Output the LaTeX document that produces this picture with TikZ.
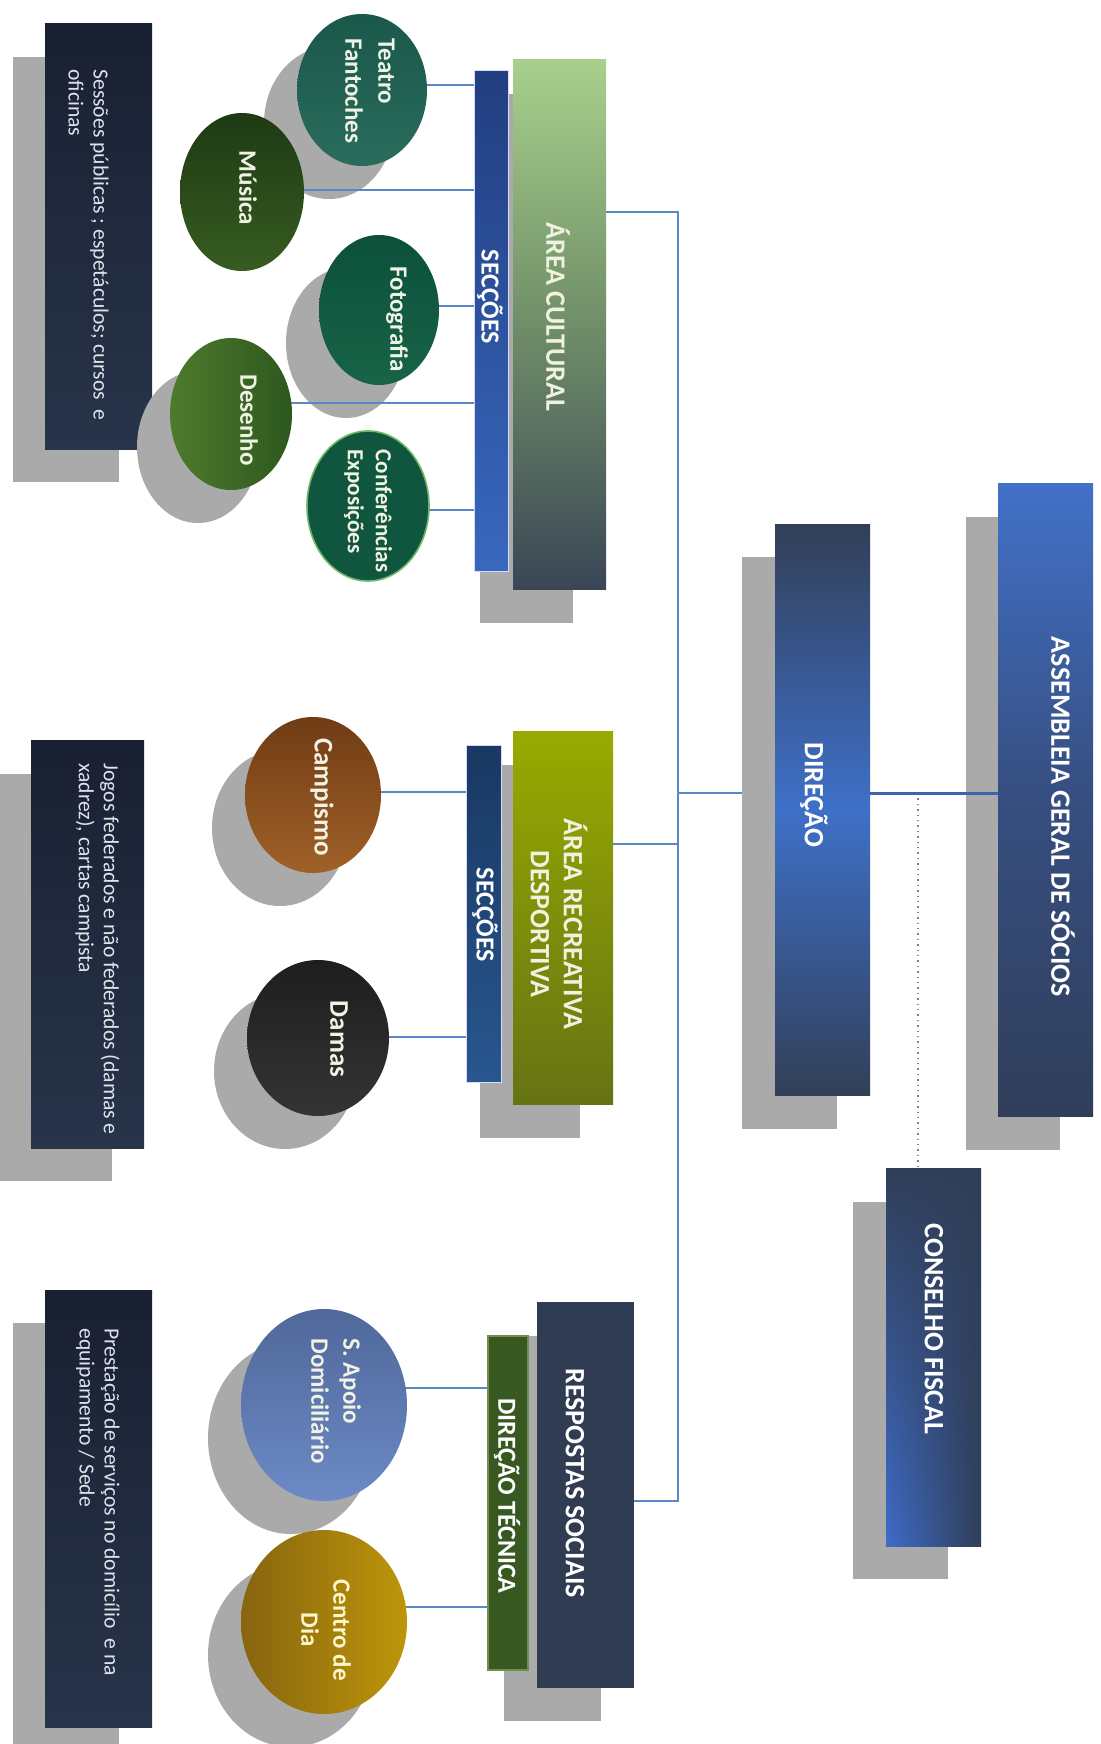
\documentclass[tikz,border=0pt]{standalone}
\usepackage{fontspec}
\setmainfont{Carlito}
\usetikzlibrary{fit,shapes.geometric,shadings}
\pgfdeclarelayer{bgl}
\pgfdeclarelayer{ln0}
\pgfdeclarelayer{rs}
\pgfdeclarelayer{es}
\pgfdeclarelayer{ln}
\pgfsetlayers{bgl,ln0,rs,es,ln,main}
\definecolor{shad}{RGB}{170,170,170}
\definecolor{navyT}{RGB}{25,32,50}
\definecolor{navyB}{RGB}{40,52,74}
\definecolor{cultT}{RGB}{168,208,140}
\definecolor{cultM}{RGB}{112,142,104}
\definecolor{cultB}{RGB}{58,70,86}
\definecolor{secAT}{RGB}{34,62,128}
\definecolor{secAB}{RGB}{56,104,190}
\definecolor{recT}{RGB}{152,170,0}
\definecolor{recB}{RGB}{102,115,20}
\definecolor{secBT}{RGB}{25,56,98}
\definecolor{secBB}{RGB}{40,86,142}
\definecolor{respc}{RGB}{48,60,82}
\definecolor{dtecc}{RGB}{56,88,34}
\definecolor{dtecb}{RGB}{110,145,80}
\definecolor{dirD}{RGB}{50,63,88}
\definecolor{dirL}{RGB}{62,112,200}
\definecolor{asmL}{RGB}{66,113,200}
\definecolor{asmM}{RGB}{54,78,128}
\definecolor{asmD}{RGB}{48,62,90}
\definecolor{consL}{RGB}{62,108,200}
\definecolor{consD}{RGB}{48,62,88}
\definecolor{connc}{RGB}{91,135,196}
\definecolor{thickc}{RGB}{62,98,172}
\definecolor{dotc}{RGB}{110,130,170}
\definecolor{cream}{RGB}{238,242,222}
\definecolor{etxt}{RGB}{240,242,228}
\definecolor{yel}{RGB}{252,246,200}
\definecolor{bodyc}{RGB}{222,226,234}
\definecolor{teaT}{RGB}{26,88,74}
\definecolor{teaB}{RGB}{42,108,92}
\definecolor{musT}{RGB}{30,58,20}
\definecolor{musB}{RGB}{55,92,32}
\definecolor{fotT}{RGB}{12,80,58}
\definecolor{fotB}{RGB}{24,100,72}
\definecolor{desL}{RGB}{78,122,45}
\definecolor{desR}{RGB}{45,88,30}
\definecolor{confc}{RGB}{16,86,62}
\definecolor{confb}{RGB}{110,180,105}
\definecolor{camT}{RGB}{112,60,20}
\definecolor{camB}{RGB}{160,96,40}
\definecolor{damT}{RGB}{30,30,30}
\definecolor{damB}{RGB}{52,52,52}
\definecolor{apoT}{RGB}{80,104,154}
\definecolor{apoB}{RGB}{108,138,198}
\definecolor{cenL}{RGB}{135,100,15}
\definecolor{cenR}{RGB}{190,150,10}
\tikzset{
  rbox/.style={inner sep=0pt, outer sep=0pt},
  ell/.style={ellipse, inner sep=0pt, outer sep=0pt},
  head/.style={rotate=-90, inner sep=0pt, font=\bfseries\fontsize{14}{16.5}\selectfont, text=white, align=center},
  subhead/.style={head, font=\bfseries\fontsize{13}{15}\selectfont},
  etext/.style={rotate=-90, inner sep=0pt, font=\bfseries\fontsize{12.5}{16.5}\selectfont, text=etxt, align=left},
  body/.style={rotate=-90, inner sep=0pt, anchor=north west, font=\fontsize{10.8}{12.5}\selectfont, text=bodyc, align=left},
  conn/.style={draw=connc, line width=0.6pt},
}
\begin{document}
\begin{tikzpicture}[x=0.5pt,y=-0.5pt]
\useasboundingbox (0,0) rectangle (1101,1744);
\begin{pgfonlayer}{bgl}
\fill[white] (0,0) rectangle (1101,1744);
\end{pgfonlayer}

% ---------- rectangle shadows and boxes ----------
\begin{pgfonlayer}{rs}
\fill[shad] (13,57) rectangle (119,482);
\fill[shad] (0,774) rectangle (112,1181);
\fill[shad] (13,1323) rectangle (119,1744);
\fill[shad] (480,94) rectangle (573,623);
\fill[shad] (480,765) rectangle (580,1138);
\fill[shad] (504,1336) rectangle (601,1721);
\fill[shad] (742,557) rectangle (837,1129);
\fill[shad] (966,517) rectangle (1060,1150);
\fill[shad] (853,1202) rectangle (948,1579);

\node[rbox, fit={(45,24) (152,449)}, top color=navyT, bottom color=navyB] (sess) {};
\node[rbox, fit={(31,740) (144,1148)}, top color=navyT, bottom color=navyB] (jogos) {};
\node[rbox, fit={(45,1290) (152,1727)}, top color=navyT, bottom color=navyB] (prest) {};
\node[rbox, fit={(513,60) (606,589)}, top color=cultT, bottom color=cultB, middle color=cultM] (cult) {};
\node[rbox, fit={(474,71) (508,571)}, top color=secAT, bottom color=secAB, draw=white!85!blue, line width=0.5pt] (secc1) {};
\node[rbox, fit={(513,731) (613,1104)}, top color=recT, bottom color=recB] (recr) {};
\node[rbox, fit={(466,745) (501,1082)}, top color=secBT, bottom color=secBB, draw=white!85!blue, line width=0.5pt] (secc2) {};
\node[rbox, fit={(537,1302) (634,1688)}, fill=respc] (resp) {};
\node[rbox, fit={(488,1336) (528,1670)}, fill=dtecc, draw=dtecb, line width=0.6pt] (dtec) {};
\node[rbox, fit={(775,524) (870,1095)}, top color=dirD, bottom color=dirD, middle color=dirL] (dir) {};
\node[rbox, fit={(998,483) (1093,1116)}, top color=asmL, bottom color=asmD, middle color=asmM] (assem) {};
\node[rbox, fit={(886,1168) (981,1546)}, lower left=consL, upper left=consD, upper right=consD, lower right=consD] (cons) {};
\end{pgfonlayer}

% ---------- ellipse shadows ----------
\begin{pgfonlayer}{es}
\fill[shad] (329,123) ellipse [x radius=32.5pt, y radius=38pt];
\fill[shad] (346,343) ellipse [x radius=30pt, y radius=37.5pt];
\fill[shad] (198,447) ellipse [x radius=30.5pt, y radius=38pt];
\fill[shad] (280,828) ellipse [x radius=34pt, y radius=39pt];
\fill[shad] (285,1071) ellipse [x radius=35.5pt, y radius=39pt];
\fill[shad] (291,1438) ellipse [x radius=41.5pt, y radius=48pt];
\fill[shad] (291,1655) ellipse [x radius=41.5pt, y radius=46pt];
\end{pgfonlayer}

% ---------- ellipses ----------
\node[ell, minimum width=65pt, minimum height=76pt, top color=teaT, bottom color=teaB] (teatro) at (362,90) {};
\node[ell, minimum width=62pt, minimum height=79pt, top color=musT, bottom color=musB] (musica) at (242,192) {};
\node[ell, minimum width=60pt, minimum height=75pt, top color=fotT, bottom color=fotB] (foto) at (379,310) {};
\node[ell, minimum width=61pt, minimum height=76pt, left color=desL, right color=desR] (desenho) at (231,414) {};
\node[ell, minimum width=61pt, minimum height=75pt, fill=confc, draw=confb, line width=0.8pt] (conf) at (368,506) {};
\node[ell, minimum width=68pt, minimum height=78pt, top color=camT, bottom color=camB] (camp) at (313,795) {};
\node[ell, minimum width=71pt, minimum height=78pt, top color=damT, bottom color=damB] (damas) at (318,1038) {};
\node[ell, minimum width=83pt, minimum height=96pt, top color=apoT, bottom color=apoB] (apoio) at (324,1405) {};
\node[ell, minimum width=83pt, minimum height=92pt, left color=cenL, right color=cenR] (centro) at (324,1622) {};

% ---------- connector levels ----------
\coordinate (yTe) at (0,85);
\coordinate (yMu) at (0,190);
\coordinate (yFo) at (0,306);
\coordinate (yDe) at (0,403);
\coordinate (yCo) at (0,510);
\coordinate (yCa) at (0,792);
\coordinate (yDa) at (0,1037);
\coordinate (yAp) at (0,1388);
\coordinate (yCe) at (0,1607);
\coordinate (tA) at (678,212);
\coordinate (tD) at (678,793);
\coordinate (tR) at (678,844);
\coordinate (tS) at (678,1501);
\coordinate (tF) at (918,793);

\begin{pgfonlayer}{ln0}
\draw[conn] (cult.east |- tA) -- (tA) -- (tS) -- (resp.east |- tS);
\draw[conn] (tR) -- (recr.east |- tR);
\draw[conn] (tD) -- (dir.west |- tD);
\draw[dotc, dotted, line width=0.7pt] (tF) -- (cons.north -| tF);
\end{pgfonlayer}

\begin{pgfonlayer}{ln}
\draw[conn] (teatro.center |- yTe) -- (secc1.west |- yTe);
\draw[conn] (musica.center |- yMu) -- (secc1.west |- yMu);
\draw[conn] (foto.center |- yFo) -- (secc1.west |- yFo);
\draw[conn] (desenho.center |- yDe) -- (secc1.west |- yDe);
\draw[conn] (conf.center |- yCo) -- (secc1.west |- yCo);
\draw[conn] (camp.center |- yCa) -- (secc2.west |- yCa);
\draw[conn] (damas.center |- yDa) -- (secc2.west |- yDa);
\draw[conn] (apoio.center |- yAp) -- (dtec.west |- yAp);
\draw[conn] (centro.center |- yCe) -- (dtec.west |- yCe);
\draw[draw=thickc, line width=1.5pt] (dir.east |- tD) -- (assem.west |- tD);
\end{pgfonlayer}

% ---------- texts ----------
\node[body] (sessT) at (109,69) {Sessões públicas ; espetáculos; cursos~ e\\oficinas};
\node[body] (jogosT) at (120,763) {Jogos federados e não federados (damas e\\xadrez), cartas campista};
\node[body] (prestT) at (120,1328) {Prestação de serviços no domicílio~ e na\\equipamento / Sede};

\node[head, text=cream] (cultT) at (558,317) {ÁREA CULTURAL};
\node[subhead] (secc1T) at (490,297) {SECÇÕES};
\node[head, text=cream] (recrT) at (559,924) {ÁREA RECREATIVA\\DESPORTIVA};
\node[subhead] (secc2T) at (485,915) {SECÇÕES};
\node[head] (respT) at (575,1483) {RESPOSTAS SOCIAIS};
\node[subhead] (dtecT) at (507,1496) {DIREÇÃO TÉCNICA};
\node[head] (dirT) at (814,795) {DIREÇÃO};
\node[head] (assemT) at (1063,817) {ASSEMBLEIA GERAL DE SÓCIOS};
\node[head] (consT) at (934,1329) {CONSELHO FISCAL};

\node[etext] (teatroT) at (370,91) {Teatro\\Fantoches};
\node[etext] (musicaT) at (248,188) {Música};
\node[etext] (fotoT) at (397,319) {Fotografia};
\node[etext] (desT) at (249,420) {Desenho};
\node[etext, font=\bfseries\fontsize{11.5}{14}\selectfont] (confT) at (368,511) {Conferências\\Exposições};
\node[etext, font=\bfseries\fontsize{13.5}{16}\selectfont] (campT) at (322,797) {Campismo};
\node[etext, font=\bfseries\fontsize{13.5}{16}\selectfont] (damasT) at (339,1039) {Damas};
\node[etext, font=\bfseries\fontsize{12.5}{16}\selectfont] (apoioT) at (336,1401) {S. Apoio\\Domiciliário};
\node[etext, align=center, text=yel, font=\bfseries\fontsize{12.5}{16}\selectfont] (centroT) at (326,1630) {Centro de\\Dia};
\end{tikzpicture}
\end{document}
